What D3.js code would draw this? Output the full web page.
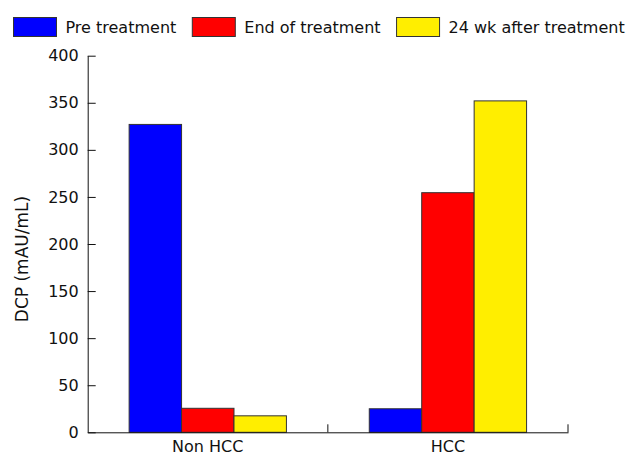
<!DOCTYPE html>
<html>
<head>
<meta charset="utf-8">
<script src="https://cdn.jsdelivr.net/npm/d3@7"></script>
<style>
  body { margin: 0; background: #fff; }
  text { font-family: "DejaVu Sans", Verdana, sans-serif; fill: #111; }
</style>
</head>
<body>
<div id="chart"></div>
<script>
// data
const groups = ["Non HCC", "HCC"];
const seriesNames = ["Pre treatment", "End of treatment", "24 wk after treatment"];
const preTreatment = [327, 25];
const endOfTreatment = [25.5, 254.5];
const wk24After = [17.5, 352];
const yTicks = [0, 50, 100, 150, 200, 250, 300, 350, 400];

const colors = ["#0000ff", "#ff0000", "#ffee00"];
const seriesValues = [preTreatment, endOfTreatment, wk24After];

const width = 631, height = 457;
const margin = {top: 55.7, right: 63, bottom: 24.7, left: 87.7};
const innerWidth = width - margin.left - margin.right;
const innerHeight = height - margin.top - margin.bottom;

const svg = d3.select("#chart").append("svg")
  .attr("width", width)
  .attr("height", height);

const g = svg.append("g")
  .attr("transform", "translate(" + margin.left + "," + margin.top + ")");

// scales
const x0 = d3.scaleBand().domain(groups).range([0, innerWidth])
  .paddingInner(0.345).paddingOuter(0.1725);
const x1 = d3.scaleBand().domain(seriesNames).range([0, x0.bandwidth()]);
const y = d3.scaleLinear().domain([0, 400]).range([innerHeight, 0]);

// bars
const rows = groups.map((grp, i) => ({
  group: grp,
  values: seriesNames.map((s, j) => ({series: s, value: seriesValues[j][i], color: colors[j]}))
}));

g.selectAll(".grp")
  .data(rows)
  .join("g")
  .attr("class", "grp")
  .attr("transform", d => "translate(" + x0(d.group) + ",0)")
  .selectAll("rect")
  .data(d => d.values)
  .join("rect")
  .attr("x", d => x1(d.series))
  .attr("y", d => y(d.value))
  .attr("width", x1.bandwidth())
  .attr("height", d => innerHeight - y(d.value))
  .attr("fill", d => d.color)
  .attr("stroke", "#333")
  .attr("stroke-width", 1);

// y axis, ticks point inward
const yAxis = g.append("g")
  .call(d3.axisLeft(y).tickValues(yTicks).tickSizeInner(-8).tickSizeOuter(0).tickPadding(9));
yAxis.selectAll("text").style("font-size", "16px").style("font-family", "DejaVu Sans");
yAxis.selectAll("line, path").attr("stroke", "#111");

// x axis: baseline + ticks at the band boundaries
const xAxis = g.append("g")
  .attr("transform", "translate(0," + innerHeight + ")")
  .call(d3.axisBottom(x0).tickSize(0).tickPadding(8));
xAxis.selectAll("text").style("font-size", "16px").style("font-family", "DejaVu Sans");
xAxis.select(".domain").attr("stroke", "#111");

const bounds = groups.map(grp => x0(grp) - x0.step() * x0.paddingInner() / 2 + x0.step());
xAxis.selectAll(".bound")
  .data(bounds)
  .join("line")
  .attr("class", "bound")
  .attr("x1", d => d).attr("x2", d => d)
  .attr("y1", 0).attr("y2", -8)
  .attr("stroke", "#111");

// y label
svg.append("text")
  .attr("transform", "translate(28,259) rotate(-90)")
  .attr("text-anchor", "middle")
  .style("font-size", "17px")
  .text("DCP (mAU/mL)");

// legend
const legend = svg.append("g").attr("transform", "translate(13.5,17.5)");
let lx = 0;
seriesNames.forEach((s, j) => {
  legend.append("rect")
    .attr("x", lx).attr("y", 0)
    .attr("width", 43).attr("height", 19)
    .attr("fill", colors[j])
    .attr("stroke", "#333");
  const t = legend.append("text")
    .attr("x", lx + 52).attr("y", 15)
    .style("font-size", "16px")
    .text(s);
  lx += 52 + t.node().getComputedTextLength() + 16;
});
</script>
</body>
</html>
